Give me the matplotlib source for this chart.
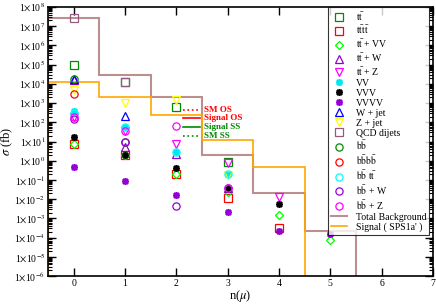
import matplotlib
matplotlib.use('Agg')
import matplotlib.pyplot as plt
import matplotlib.ticker as ticker
import numpy as np

plt.rcParams['font.family'] = ['Liberation Serif', 'DejaVu Serif']
plt.rcParams['mathtext.fontset'] = 'stix'

nan = np.nan
n_mu = [0, 1, 2, 3, 4, 5]

# cross sections (fb) per muon multiplicity
tt = [1e5, 1.3e4, 6e2, 0.87, nan, nan]
tttt = [7, 2, 0.2, 0.011, 3e-4, nan]
tt_vv = [7, 2, 0.2, 0.024, 1.5e-3, 7.2e-5]
tt_w = [1.6e4, 5, 2.2, 0.04, nan, nan]
tt_z = [200, 35, 7, 0.8, 0.013, nan]
vv = [400, 60, 3, 0.2, nan, nan]
vvv = [17, 2, 0.4, 0.032, 5.5e-3, nan]
vvvv = [0.45, 0.088, 0.017, 2.2e-3, 2.2e-4, 1.45e-4]
w_jet = [1.7e4, 220, nan, nan, nan, nan]
z_jet = [5e3, 1e3, 1.4e3, 0.18, nan, nan]
qcd = [2.6e7, 1.3e4, nan, nan, nan, nan]
bb = [1.7e4, 10, nan, nan, nan, nan]
bbbb = [3e3, nan, nan, nan, nan, nan]
bb_tt = [300, 60, 3, 0.2, nan, nan]
bb_w = [150, 10, 4.4e-3, 0.04, nan, nan]
bb_z = [200, 35, 65, 0.04, nan, nan]

# step histograms, bins centred on n = 0..6
bin_edges = [-0.5, 0.5, 1.5, 2.5, 3.5, 4.5, 5.5, 6.5]
total_bg = [2.6e7, 2.9e4, 2.1e3, 2.1, 0.021, 2.1e-4, 1e-12]
signal = [1.3e4, 2.1e3, 2.4e2, 11.7, 0.48, 1e-12, 1e-12]

series = [
    (tt, r'$\mathrm{t\bar{t}}$', 's', '#008b00'),
    (tttt, r'$\mathrm{t\bar{t}t\bar{t}}$', 's', '#ff0000'),
    (tt_vv, r'$\mathrm{t\bar{t}}$ + VV', 'D', '#00ff00'),
    (tt_w, r'$\mathrm{t\bar{t}}$ + W', '^', '#9400d3'),
    (tt_z, r'$\mathrm{t\bar{t}}$ + Z', 'v', '#ff00ff'),
    (vv, 'VV', (8, 2, 0), '#00e5ee'),
    (vvv, 'VVV', (8, 2, 0), '#000000'),
    (vvvv, 'VVVV', (8, 2, 0), '#9400d3'),
    (w_jet, 'W + jet', '^', '#0000ff'),
    (z_jet, 'Z + jet', 'v', '#ffff00'),
    (qcd, 'QCD dijets', 's', '#965a82'),
    (bb, r'$\mathrm{b\bar{b}}$', 'o', '#008b00'),
    (bbbb, r'$\mathrm{b\bar{b}b\bar{b}}$', 'o', '#ff0000'),
    (bb_tt, r'$\mathrm{b\bar{b}\ t\bar{t}}$', 'o', '#00ffff'),
    (bb_w, r'$\mathrm{b\bar{b}}$ + W', 'o', '#9400d3'),
    (bb_z, r'$\mathrm{b\bar{b}}$ + Z', 'o', '#ff00ff'),
]

fig = plt.figure(figsize=(4.36, 3.04), dpi=100)
ax = fig.add_axes([0.110, 0.092, 0.883, 0.885])

handles = []
for vals, lab, mk, col in series:
    if isinstance(mk, tuple):
        h, = ax.plot(n_mu, vals, linestyle='none', marker=mk, markersize=5,
                     color=col, markeredgewidth=1.2, label=lab)
    else:
        ms = 4.2 if mk == 'D' else 5.2
        h, = ax.plot(n_mu, vals, linestyle='none', marker=mk, markersize=ms,
                     markerfacecolor='none', markeredgecolor=col,
                     markeredgewidth=0.9, label=lab)
    handles.append(h)

ax.stairs(total_bg, bin_edges, color='#bc8f8f', linewidth=1.5)
ax.stairs(signal, bin_edges, color='#ffa500', linewidth=1.2)
bg_line, = ax.plot([], [], color='#bc8f8f', linewidth=1.5)
sig_line, = ax.plot([], [], color='#ffa500', linewidth=1.2)
handles += [bg_line, sig_line]
labels = [s[1] for s in series] + ['Total Background', "Signal ( SPS1a' )"]

ax.set_yscale('log')
ax.set_xlim(-0.5, 7)
ax.set_ylim(1e-6, 1e8)

ax.xaxis.set_major_locator(ticker.MultipleLocator(1))
ax.xaxis.set_minor_locator(ticker.NullLocator())
ax.yaxis.set_major_locator(ticker.LogLocator(base=10, numticks=20))
ax.yaxis.set_minor_locator(ticker.LogLocator(base=10, subs=np.arange(2, 10), numticks=20))
ax.yaxis.set_minor_formatter(ticker.NullFormatter())
ax.yaxis.set_major_formatter(ticker.FuncFormatter(
    lambda v, p: r'1$\times$10$^{%d}$' % int(round(np.log10(v)))))

ax.tick_params(which='both', direction='in', top=True, right=True, labelsize=7, pad=2)
ax.tick_params(which='major', length=6, width=1)
ax.tick_params(which='minor', length=3, width=0.8)
for sp in ax.spines.values():
    sp.set_linewidth(1.2)

ax.set_xlabel(r'n($\mu$)', fontsize=9, labelpad=0)
ax.set_ylabel(r'$\sigma$ (fb)', fontsize=9)
ax.yaxis.set_label_coords(-0.085, 0.5)

leg = ax.legend(handles, labels, loc='upper right', fontsize=7,
                frameon=True, fancybox=False, edgecolor='black',
                labelspacing=0.1, handlelength=1.6, handletextpad=0.9,
                borderpad=0.3, borderaxespad=0.0, bbox_to_anchor=(0.99, 1.0))
leg.get_frame().set_linewidth(0.8)

# channel key in the middle
key = [('SM OS', '#ff0000', ':'), ('Signal OS', '#ff0000', '-'),
       ('Signal SS', '#008b00', '-'), ('SM SS', '#008b00', ':')]
key_y = [0.617, 0.587, 0.554, 0.520]
for (txt, col, ls), yy in zip(key, key_y):
    ax.plot([0.351, 0.395], [yy, yy], transform=ax.transAxes, color=col,
            linestyle=ls, linewidth=1.2)
    ax.text(0.405, yy, txt, transform=ax.transAxes, color=col, fontsize=6.5,
            fontweight='bold', va='center', ha='left')

fig.savefig('out.png', dpi=100)
